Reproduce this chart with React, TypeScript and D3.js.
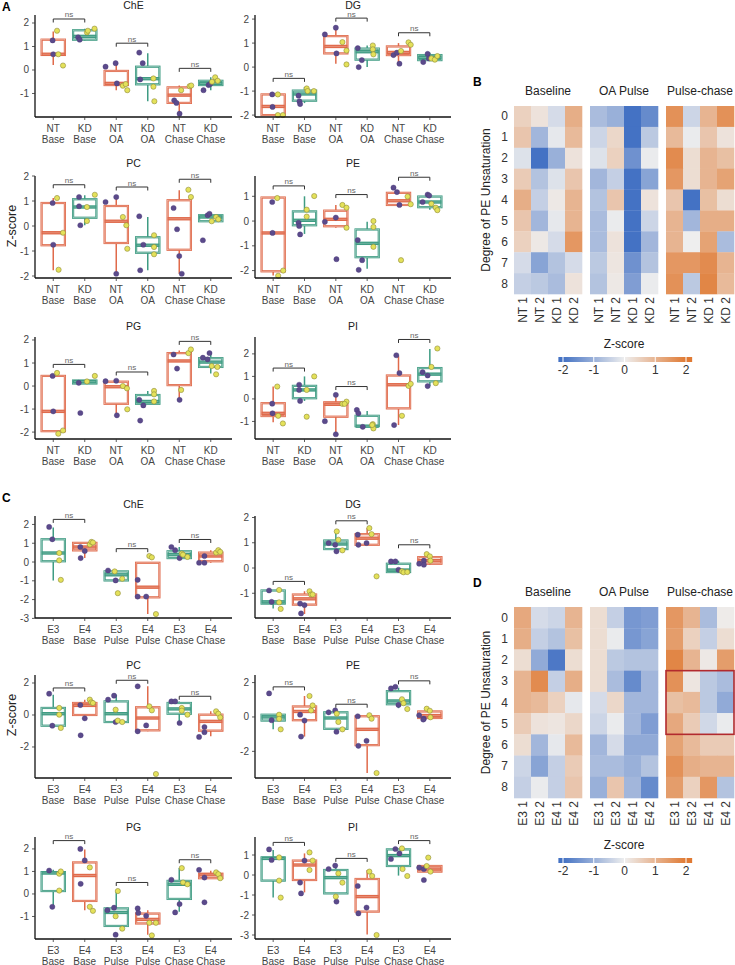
import React from "react";
import * as d3 from "d3";

const ORANGE = "#E06A4B";
const TEAL = "#3F9C83";
const PURPLE = "#5B4A8B";
const YELLOW = "#E4E15A";
const FONT = "'Liberation Sans', Arial, sans-serif";

type Grp = { box: number[]; p: number[][]; y: number[][] };

// ---------- Panel A categories ----------
const A_top = ["NT", "KD", "NT", "KD", "NT", "KD"];
const A_bot = ["Base", "Base", "OA", "OA", "Chase", "Chase"];
const A_cols = [ORANGE, TEAL, ORANGE, TEAL, ORANGE, TEAL];
// ---------- Panel C categories ----------
const C_top = ["E3", "E4", "E3", "E4", "E3", "E4"];
const C_bot = ["Base", "Base", "Pulse", "Pulse", "Chase", "Chase"];
const C_cols = [TEAL, ORANGE, TEAL, ORANGE, TEAL, ORANGE];

// box = [lower whisker, q1, median, q3, upper whisker]; points = [jitter, value]
const A_ChE: Grp[] = [
  { box: [0.21, 0.64, 0.67, 1.29, 1.64], p: [[-0.02, 1.26], [0, 0.67]], y: [[0.12, 1.67], [0.16, 0.67], [0.31, 0.19]] },
  { box: [1.25, 1.29, 1.43, 1.69, 1.76], p: [[-0.21, 1.39], [-0.16, 1.29]], y: [[0.07, 1.6], [0.1, 1.67], [0.31, 1.76]] },
  { box: [-0.86, -0.64, -0.57, -0.04, 0.29], p: [[-0.34, 0.14], [-0.02, 0.29], [0.02, -0.57]], y: [[0.21, -0.67], [0.3, -0.6], [0.35, -0.86]] },
  { box: [-1.33, -0.61, -0.37, 0.14, 0.71], p: [[-0.27, 0.74], [-0.16, 0.29], [-0.24, -0.4]], y: [[0.18, -0.36], [0.18, -0.71], [0.21, -1.33]] },
  { box: [-1.86, -1.4, -1.07, -0.74, -0.66], p: [[-0.16, -1.29], [-0.09, -1.4], [0.01, -1.86]], y: [[0.06, -0.86], [0.33, -0.69], [0.38, -0.66]] },
  { box: [-0.86, -0.64, -0.57, -0.46, -0.31], p: [[-0.23, -0.86], [-0.07, -0.64], [-0.02, -0.6]], y: [[0.14, -0.31], [0.22, -0.46], [0.04, -0.5]] },
];
const A_DG: Grp[] = [
  { box: [-2.0, -2.0, -1.64, -1.14, -1.14], p: [[-0.03, -1.14], [-0.02, -1.66]], y: [[0.15, -1.14], [0.15, -2.0], [0.31, -2.0]] },
  { box: [-1.5, -1.4, -1.12, -0.98, -0.83], p: [[-0.19, -1.19], [-0.16, -1.43], [-0.14, -1.54]], y: [[0.07, -0.89], [0.1, -1.0], [0.3, -1.0]] },
  { box: [0.14, 0.57, 0.86, 1.29, 1.64], p: [[-0.35, 1.36], [0, 1.64], [0.02, 0.57]], y: [[0.21, 1.04], [0.34, 0.69], [0.34, 0.11]] },
  { box: [0, 0.31, 0.64, 0.77, 0.9], p: [[-0.3, 0.79], [-0.17, 0.29], [-0.27, 0]], y: [[0.18, 0.9], [0.18, 0.74], [0.2, 0.53]] },
  { box: [0.14, 0.5, 0.61, 0.86, 1.0], p: [[-0.16, 0.5], [-0.05, 0.6], [0.03, 0.14]], y: [[0.08, 0.67], [0.32, 1.03], [0.39, 0.93]] },
  { box: [0.24, 0.29, 0.4, 0.5, 0.6], p: [[-0.21, 0.21], [-0.07, 0.55], [-0.03, 0.36]], y: [[0.05, 0.36], [0.16, 0.31], [0.24, 0.46]] },
];
const A_PC: Grp[] = [
  { box: [-1.77, -0.77, -0.27, 0.92, 1.12], p: [[-0.02, 0.92], [0, -0.75]], y: [[0.12, 1.12], [0.31, -0.27], [0.17, -1.75]] },
  { box: [0.03, 0.33, 0.76, 1.07, 1.23], p: [[-0.18, 1.16], [-0.18, 0.79], [-0.14, 0.03]], y: [[0.07, 0.76], [0.07, 0.2], [0.32, 1.25]] },
  { box: [-1.91, -0.68, 0.19, 0.8, 1.16], p: [[-0.34, 0.96], [0, 1.16], [0, -1.91]], y: [[0.21, 0.36], [0.32, 0.03], [0.35, -0.91]] },
  { box: [-1.77, -1.07, -0.77, -0.45, 0.36], p: [[-0.27, 0.39], [-0.14, -0.75], [-0.24, -1.77]], y: [[0.2, -0.37], [0.2, -0.84], [0.2, -1.13]] },
  { box: [-1.91, -0.95, 0.29, 1.03, 1.43], p: [[-0.18, 0.72], [-0.07, -0.13], [0, -1.2], [0.08, -1.91]], y: [[0.29, 1.45], [0.37, 1.16]] },
  { box: [0.19, 0.19, 0.36, 0.43, 0.49], p: [[-0.25, -0.57], [-0.1, 0.43], [-0.04, 0.49]], y: [[0.03, 0.19], [0.17, 0.36], [0.24, 0.27]] },
];
const A_PE: Grp[] = [
  { box: [-2.2, -2.03, -0.48, 0.95, 0.95], p: [[-0.03, 0.77], [-0.02, -0.48]], y: [[0.13, 0.93], [0.32, -2.0], [0.16, -2.21]] },
  { box: [-0.52, -0.17, 0.03, 0.39, 1.0], p: [[-0.19, -0.07], [-0.17, -0.2], [-0.14, -0.54]], y: [[0.07, 0.18], [0.07, 0.46], [0.31, 1.01]] },
  { box: [-0.27, -0.21, 0.07, 0.42, 0.65], p: [[-0.35, -0.03], [0, 0.14], [0.02, -1.54]], y: [[0.21, 0.65], [0.34, 0.54], [0.34, -0.27]] },
  { box: [-1.93, -1.46, -0.9, -0.34, -0.03], p: [[-0.3, -0.77], [-0.16, -1.58], [-0.27, -1.97]], y: [[0.2, 0], [0.2, -0.24], [0.2, -1.04]] },
  { box: [0.65, 0.65, 0.82, 1.14, 1.24], p: [[-0.16, 1.35], [-0.05, 1.17], [0.03, 0.65]], y: [[0.29, 0.99], [0.39, 0.68], [0.08, -1.58]] },
  { box: [0.46, 0.56, 0.77, 0.99, 1.1], p: [[-0.23, 0.77], [-0.07, 1.07], [-0.02, 1.03]], y: [[0.05, 0.7], [0.19, 0.54], [0.24, 0.44]] },
];
const A_PG: Grp[] = [
  { box: [-1.96, -1.96, -1.1, 0.44, 0.44], p: [[-0.02, 0.44], [0, -1.1]], y: [[0.12, 0.57], [0.31, -1.93], [0.16, -2.07]] },
  { box: [0.11, 0.11, 0.19, 0.24, 0.24], p: [[-0.19, 0.14], [-0.14, -1.17]], y: [[0.07, 0.2], [0.32, 0.44]] },
  { box: [-1.24, -0.77, -0.03, 0.19, 0.23], p: [[-0.34, 0.21], [0, 0.23], [0.02, -1.27]], y: [[0.21, 0], [0.34, -0.1], [0.35, -1.01]] },
  { box: [-0.77, -0.77, -0.67, -0.39, -0.21], p: [[-0.27, -0.6], [-0.14, -0.84], [-0.24, -1.5]], y: [[0.2, -0.21], [0.2, -0.36], [0.2, -0.67]] },
  { box: [-0.6, 0.04, 1.09, 1.43, 1.54], p: [[-0.18, 1.37], [-0.07, 0.76], [0.01, -0.6]], y: [[0.06, -0.17], [0.29, 1.43], [0.37, 1.59]] },
  { box: [0.54, 0.83, 1.04, 1.21, 1.4], p: [[-0.25, 1.23], [-0.1, 1.16], [-0.04, 1.43]], y: [[0.03, 0.87], [0.21, 0.83], [0.17, 0.51]] },
];
const A_PI: Grp[] = [
  { box: [-1.04, -0.76, -0.64, -0.19, 0.55], p: [[-0.03, -0.21], [-0.02, -0.64]], y: [[0.13, 0.55], [0.16, -0.75], [0.31, -1.09]] },
  { box: [-0.09, 0.03, 0.4, 0.58, 1.0], p: [[-0.17, 0.63], [-0.17, 0.4], [-0.14, -0.09]], y: [[0.07, 0.4], [0.31, 1.0], [0.07, -0.79]] },
  { box: [-1.54, -0.79, -0.24, -0.15, 0.18], p: [[-0.35, -0.99], [0, 0.18], [0, -1.57]], y: [[0.21, -0.22], [0.34, -0.12], [0.28, -0.22]] },
  { box: [-1.24, -1.21, -1.21, -0.75, -0.54], p: [[-0.33, -0.49], [-0.28, -0.64], [-0.14, -1.24]], y: [[0.18, -1.12], [0.2, -1.31], [0.16, -1.16]] },
  { box: [-1.16, -0.42, 0.63, 1.04, 1.9], p: [[-0.07, 1.94], [0.03, 1.15], [-0.14, -1.16]], y: [[0.11, -0.75], [0.32, 0.58], [0.39, 0.67]] },
  { box: [0.57, 0.78, 1.1, 1.37, 2.22], p: [[-0.23, 1.19], [-0.07, 1.04], [-0.07, 0.57]], y: [[0.05, 1.42], [0.19, 0.7], [0.24, 2.24]] },
];

const C_ChE: Grp[] = [
  { box: [-0.98, 0.04, 0.48, 1.21, 1.84], p: [[-0.13, 1.87], [-0.03, 1.21]], y: [[0.19, 0.48], [0.19, 0.09], [0.24, -0.95]] },
  { box: [0.21, 0.62, 0.8, 1.02, 1.07], p: [[-0.14, 0.8], [0, 0.59], [-0.13, 0.21]], y: [[0.16, 0.93], [0.21, 1.07], [0.26, 1.04]] },
  { box: [-0.98, -0.98, -0.68, -0.5, -0.45], p: [[-0.26, -0.45], [-0.02, -0.98]], y: [[-0.05, -0.5], [0.19, -0.89], [0.05, -1.66]] },
  { box: [-2.77, -1.88, -1.34, -0.04, -0.04], p: [[-0.32, -0.95], [-0.32, -1.84], [-0.05, -1.84]], y: [[0.05, 0.32], [0.13, 0.25], [0.26, -2.77]] },
  { box: [0.21, 0.21, 0.39, 0.57, 0.8], p: [[-0.25, 0.8], [-0.13, 0.63], [0.01, 0.21]], y: [[0.08, 0.45], [0.12, 0.39], [0.26, 0.27]] },
  { box: [-0.04, 0.04, 0.32, 0.5, 0.63], p: [[-0.37, -0.04], [-0.2, 0.32], [-0.2, -0.04]], y: [[0.17, 0.5], [0.24, 0.63], [0.3, 0.54]] },
];
const C_DG: Grp[] = [
  { box: [-1.6, -1.41, -1.34, -0.89, -0.87], p: [[-0.13, -0.89], [-0.05, -1.34]], y: [[0.19, -0.87], [0.19, -1.36], [0.24, -1.62]] },
  { box: [-1.82, -1.45, -1.22, -1.05, -0.92], p: [[-0.14, -1.41], [0, -1.47], [-0.11, -1.8]], y: [[0.16, -0.92], [0.21, -1.05], [0.26, -1.05]] },
  { box: [0.66, 0.75, 0.95, 1.09, 1.45], p: [[-0.23, 0.99], [-0.02, 0.92], [0.02, 0.66]], y: [[0.03, 1.45], [0.08, 1.12], [0.21, 0.7]] },
  { box: [0.92, 0.92, 1.18, 1.34, 1.58], p: [[-0.3, 1.32], [-0.28, 0.92], [-0.02, 0.99]], y: [[0.07, 1.58], [0.14, 1.34], [0.3, -0.33]] },
  { box: [-0.16, -0.16, -0.08, 0.17, 0.29], p: [[-0.24, 0.26], [-0.1, 0.26], [0, -0.07]], y: [[0.11, -0.13], [0.16, -0.17], [0.28, -0.16]] },
  { box: [0.13, 0.17, 0.29, 0.43, 0.55], p: [[-0.34, 0.17], [-0.19, 0.29], [-0.19, 0.13]], y: [[-0.1, 0.55], [0, 0.46], [0.02, 0.29]] },
];
const C_PC: Grp[] = [
  { box: [-0.67, -0.67, 0.08, 0.44, 1.27], p: [[-0.13, 1.33], [-0.03, -0.67]], y: [[0.19, 0.44], [0.19, 0.02], [0.24, -0.81]] },
  { box: [0, 0, 0.6, 0.75, 0.96], p: [[-0.14, 0.62], [0, -0.21], [-0.13, -1.27]], y: [[0.16, 0.96], [0.21, 0.79], [0.26, 0.75]] },
  { box: [-0.44, -0.44, 0.08, 0.85, 1.27], p: [[-0.26, 0.96], [-0.07, 1.21], [-0.02, -0.44]], y: [[-0.02, 0.33], [0.05, -0.35], [0.19, -0.44]] },
  { box: [-1.02, -0.96, -0.19, 0.48, 1.79], p: [[-0.32, 1.79], [-0.32, -1.02], [-0.05, -0.65]], y: [[0.05, 0.54], [0.13, 0.29], [0.26, -3.69]] },
  { box: [-0.5, 0.08, 0.38, 0.75, 0.85], p: [[-0.25, 0.85], [-0.13, 0.85], [0.01, -0.5]], y: [[0.08, 0.44], [0.08, 0.27], [0.26, 0.02]] },
  { box: [-1.33, -0.98, -0.4, 0.02, 0.23], p: [[-0.37, -1.37], [-0.2, -0.75], [-0.2, -1.08]], y: [[0.17, 0.23], [0.24, 0.08], [0.3, -0.15]] },
];
const C_PE: Grp[] = [
  { box: [-0.72, -0.21, 0, 0.13, 0.13], p: [[-0.13, 1.37], [-0.05, -0.19]], y: [[0.19, 0.13], [0.19, -0.11], [0.24, -0.72]] },
  { box: [-1.14, -0.19, 0.32, 0.61, 1.22], p: [[-0.14, 0.13], [0, -0.21], [-0.11, -1.14]], y: [[0.16, 1.22], [0.21, 0.38], [0.26, 0.67]] },
  { box: [-0.88, -0.69, -0.06, 0.27, 0.38], p: [[-0.23, 0.27], [-0.02, 0.38], [0.02, -0.86]], y: [[0.03, 0.19], [0.08, -0.29], [0.21, -0.72]] },
  { box: [-3.26, -1.64, -0.72, 0.04, 0.04], p: [[-0.3, 0.04], [-0.28, -1.68], [-0.02, -1.39]], y: [[0.07, 0.1], [0.14, -0.1], [0.3, -3.26]] },
  { box: [0.51, 0.74, 0.93, 1.5, 1.7], p: [[-0.24, 1.66], [-0.1, 1.75], [0, 0.7]], y: [[0.11, 1.03], [0.16, 0.8], [0.28, 0.46]] },
  { box: [-0.15, -0.06, 0.08, 0.32, 0.46], p: [[-0.34, 0.1], [-0.19, -0.1], [-0.21, -0.15]], y: [[-0.1, 0.48], [0, 0.36], [0.02, -0.02]] },
];
const C_PG: Grp[] = [
  { box: [-0.57, 0.13, 0.93, 0.97, 1.07], p: [[-0.13, 1.04], [-0.03, -0.57]], y: [[0.19, 0.9], [0.24, 1.0], [0.19, 0.15]] },
  { box: [-0.72, -0.31, 0.82, 1.4, 1.97], p: [[-0.14, 2.0], [0, 1.49], [-0.13, 0.45]], y: [[0.16, 1.18], [0.16, -0.57], [0.26, -0.75]] },
  { box: [-1.42, -1.42, -0.82, -0.64, 0.1], p: [[-0.28, -0.72], [-0.07, -0.61], [-0.02, -1.81]], y: [[0.05, 0.13], [-0.02, -0.99], [0.19, -1.54]] },
  { box: [-1.81, -1.31, -1.13, -0.87, -0.72], p: [[-0.32, -0.64], [-0.3, -0.84], [-0.05, -0.97]], y: [[0.05, -1.28], [0.26, -1.28], [0.13, -1.84]] },
  { box: [-0.79, -0.22, 0.43, 0.58, 1.15], p: [[-0.25, 0.63], [0.01, -0.45], [-0.13, -0.82]], y: [[0.08, 1.15], [0.12, 0.51], [0.26, 0.43]] },
  { box: [0.7, 0.7, 0.85, 0.9, 1.03], p: [[-0.37, 1.07], [-0.2, 0.73], [-0.2, -0.37]], y: [[0.17, 0.96], [0.24, 0.88], [0.3, 0.7]] },
];
const C_PI: Grp[] = [
  { box: [-1.12, -0.28, 0.83, 0.88, 1.25], p: [[-0.13, 1.28], [-0.05, 0.75]], y: [[0.19, 0.88], [0.19, -0.28], [0.24, -1.13]] },
  { box: [-0.87, -0.25, 0.5, 0.72, 1.08], p: [[0, 0.72], [-0.14, -0.38], [-0.11, -0.92]], y: [[0.16, 1.13], [0.26, 0.72], [0.16, 0.25]] },
  { box: [-1.33, -0.92, -0.13, 0.25, 0.5], p: [[-0.23, 0.3], [-0.02, 0.47], [0.02, -1.33]], y: [[0.08, 0.08], [0.21, -0.38], [0, -1.08]] },
  { box: [-2.97, -1.83, -1.08, -0.2, 0.25], p: [[-0.3, -0.55], [-0.28, -1.92], [-0.02, -1.63]], y: [[0.07, 0.17], [0.16, -0.05], [0.3, -3.0]] },
  { box: [-0.03, 0.45, 0.97, 1.28, 1.3], p: [[-0.24, 0.8], [-0.1, 1.3], [0.03, 1.08]], y: [[0.11, 1.33], [0.13, 0.3], [0.28, -0.05]] },
  { box: [0.17, 0.17, 0.3, 0.45, 0.45], p: [[-0.34, 0.37], [-0.19, 0.3], [-0.19, -0.25]], y: [[-0.05, 0.87], [-0.1, 0.45], [0.02, 0.17]] },
];

// bracket heights for pairs (0-1, 2-3, 4-5)
const A_ChE_ns = [2.17, 1.14, 0.07];
const A_DG_ns = [-0.47, 2.04, 1.43];
const A_PC_ns = [1.65, 1.56, 1.87];
const A_PE_ns = [1.42, 1.07, 1.77];
const A_PG_ns = [0.94, 0.61, 1.94];
const A_PI_ns = [1.37, 0.55, 2.64];
const C_ChE_ns = [2.27, 0.71, 1.2];
const C_DG_ns = [-0.53, 1.87, 0.92];
const C_PC_ns = [1.69, 2.17, 1.17];
const C_PE_ns = [1.75, 0.74, 2.1];
const C_PG_ns = [2.37, 0.51, 1.52];
const C_PI_ns = [1.63, 0.83, 1.72];

// ---------- Heatmaps ----------
const rowLabels = ["0", "1", "2", "3", "4", "5", "6", "7", "8"];
const blockTitles = ["Baseline", "OA Pulse", "Pulse-chase"];
const B_colLabels = ["NT 1", "NT 2", "KD 1", "KD 2"];
const D_colLabels = ["E3 1", "E3 2", "E4 1", "E4 2"];

const B_baseline = [
  [0.5, 0.2, -0.3, 1.1], [0.7, -0.9, -0.1, 0.9], [-0.2, -2.0, -1.0, 0.2],
  [0.6, -0.7, -0.2, 0.7], [1.1, -0.5, 0.1, 1.0], [0.7, -0.9, -0.1, 1.0],
  [0.5, 0.1, -0.3, 1.5], [-0.3, -1.2, -0.7, -0.3], [-0.5, -0.6, -0.8, 0.2],
];
const B_oapulse = [
  [-0.8, -1.0, -2.0, -1.6], [-0.4, 0.4, -2.0, -0.6], [-0.2, 0.5, -1.5, -0.05],
  [-0.9, -0.5, -2.0, -1.2], [-0.7, 0.7, -2.0, 0.2], [-0.8, -0.05, -2.0, -0.4],
  [-0.8, 0.2, -2.0, -0.9], [-0.6, 0.15, -1.5, -0.7], [-0.7, 0.1, -1.3, -0.05],
];
const B_pulsechase = [
  [1.6, -0.4, 1.0, 1.6], [0.9, -0.05, 0.7, 0.2], [1.7, 0.3, 1.0, 0.8],
  [1.5, 0.3, 1.0, 1.3], [0.7, -2.0, 0.8, 0.3], [1.0, -0.9, 1.1, 1.1],
  [1.0, 0.0, 1.3, -0.8], [1.5, 1.5, 1.7, 1.0], [1.6, -0.6, 1.8, 0.9],
];
const D_baseline = [
  [1.2, -0.3, -0.4, 1.0], [1.1, -0.5, -0.7, 0.8], [0.3, -1.1, -1.9, 0.3],
  [1.0, 1.7, -0.5, 1.1], [1.0, 0.9, 0.5, -0.1], [0.6, 0.2, 0.15, 0.4],
  [0.3, -0.9, -0.1, 0.9], [-0.4, -1.2, -0.5, 0.6], [-0.5, -0.05, -0.5, 0.7],
];
const D_oapulse = [
  [0.3, -0.5, -1.4, -1.3], [0.3, -0.05, -1.4, -1.2], [0.3, -0.6, -0.7, -0.7],
  [0.3, -0.8, -1.6, -0.9], [-0.3, 0.4, -0.9, -0.9], [-0.4, -0.05, -0.9, -1.3],
  [-0.9, -0.3, -1.1, -1.1], [-0.8, -0.8, -1.0, -0.7], [-1.0, 0.7, -0.9, -1.6],
];
const D_pulsechase = [
  [1.5, 1.0, -0.8, 0.05], [1.4, 0.5, -0.5, 0.3], [1.8, 1.0, 0.1, 1.4],
  [1.6, 0.15, -0.6, -0.8], [0.8, 0.9, -0.6, -1.1], [1.2, 0.6, -0.35, -0.05],
  [1.3, 0.9, 0.6, 0.6], [1.6, 1.1, 1.0, 1.0], [1.4, 0.5, 1.5, -0.7],
];
const cbTicks = [-2, -1, 0, 1, 2];

const heatColor = d3
  .scaleLinear<string>()
  .domain([-2, 0, 2])
  .range(["#4472C4", "#EEEEEE", "#E07A33"])
  .clamp(true);

type PanelProps = {
  title: string;
  groups: Grp[];
  domain: [number, number];
  ticks: number[];
  ns: number[];
  x0: number;
  x1: number;
  top: number;
  bottom: number;
  titleY: number;
  catTop: string[];
  catBot: string[];
  colors: string[];
};

function BoxPanel(props: PanelProps) {
  const { title, groups, domain, ticks, ns, x0, x1, top, bottom, titleY, catTop, catBot, colors } = props;
  const x = d3.scaleBand<number>().domain(d3.range(6)).range([x0 + 2.5, x1 - 5.5]);
  const step = x.step();
  const cx = (i: number) => (x(i) as number) + x.bandwidth() / 2;
  const y = d3.scaleLinear().domain(domain).range([bottom, top]);
  const bw = step * 0.74;
  return (
    <g>
      <text x={(x0 + x1) / 2} y={titleY} textAnchor="middle" fontSize={10.5} fill="#222">
        {title}
      </text>
      {groups.map((g, i) => {
        const c = cx(i);
        const [lo, q1, md, q3, hi] = g.box;
        const col = colors[i];
        return (
          <g key={i}>
            <line x1={c} x2={c} y1={y(lo)} y2={y(q1)} stroke={col} strokeWidth={1.5} />
            <line x1={c} x2={c} y1={y(q3)} y2={y(hi)} stroke={col} strokeWidth={1.5} />
            <rect x={c - bw / 2} y={y(q3)} width={bw} height={Math.max(0.5, y(q1) - y(q3))} fill="#fff" fillOpacity={0.85} stroke={col} strokeWidth={2.2} />
            <rect x={c - bw / 2} y={y(q3)} width={bw} height={Math.max(0.5, y(q1) - y(q3))} fill="none" stroke="#fff" strokeOpacity={0.55} strokeWidth={0.6} />
            <line x1={c - bw / 2} x2={c + bw / 2} y1={y(md)} y2={y(md)} stroke={col} strokeWidth={3.4} />
            <line x1={c - bw / 2 + 1} x2={c + bw / 2 - 1} y1={y(md)} y2={y(md)} stroke="#fff" strokeOpacity={0.35} strokeWidth={0.7} />
          </g>
        );
      })}
      {groups.map((g, i) => (
        <g key={"pt" + i}>
          {g.p.map((p, j) => (
            <circle key={"p" + j} cx={cx(i) + p[0] * step} cy={y(p[1])} r={2.6} fill={PURPLE} stroke="#4a3a78" strokeWidth={0.4} />
          ))}
          {g.y.map((p, j) => (
            <circle key={"y" + j} cx={cx(i) + p[0] * step} cy={y(p[1])} r={2.6} fill={YELLOW} stroke="#8f8c3a" strokeWidth={0.6} />
          ))}
        </g>
      ))}
      {ns.map((v, k) => {
        const a = cx(k * 2);
        const b = cx(k * 2 + 1);
        const yy = y(v);
        return (
          <g key={"ns" + k}>
            <path d={`M${a},${yy + 3.5}V${yy}H${b}V${yy + 3.5}`} fill="none" stroke="#333" strokeWidth={1} />
            <text x={(a + b) / 2} y={yy - 1.5} textAnchor="middle" fontSize={8} fill="#666">
              ns
            </text>
          </g>
        );
      })}
      <line x1={x0} x2={x0} y1={top} y2={bottom} stroke="#111" strokeWidth={1.3} />
      <line x1={x0} x2={x1} y1={bottom} y2={bottom} stroke="#111" strokeWidth={1.3} />
      {ticks.map((t) => (
        <g key={"t" + t}>
          <line x1={x0 - 3} x2={x0} y1={y(t)} y2={y(t)} stroke="#333" strokeWidth={0.8} />
          <text x={x0 - 6} y={y(t) + 3.5} textAnchor="end" fontSize={10} fill="#444">
            {t}
          </text>
        </g>
      ))}
      {catTop.map((c, i) => (
        <g key={"c" + i}>
          <line x1={cx(i)} x2={cx(i)} y1={bottom} y2={bottom + 3} stroke="#333" strokeWidth={0.8} />
          <text x={cx(i)} y={bottom + 14.5} textAnchor="middle" fontSize={10} fill="#444">
            {c}
          </text>
          <text x={cx(i)} y={bottom + 25.5} textAnchor="middle" fontSize={10} fill="#444">
            {catBot[i]}
          </text>
        </g>
      ))}
    </g>
  );
}

type HeatProps = {
  top: number;
  bottom: number;
  blocks: number[][][];
  colLabels: string[];
  cbY: number;
  highlight?: boolean;
};

const blockX = [514, 590, 666];

function Heatmap({ top, bottom, blocks, colLabels, cbY, highlight }: HeatProps) {
  const cellW = 17;
  const rowY = d3.scaleBand<number>().domain(d3.range(9)).range([top, bottom]);
  const cellH = rowY.bandwidth();
  const cb = d3.scaleLinear().domain([-2, 2]).range([563, 686]);
  const gradStops = d3.range(-2.15, 2.21, 0.05);
  const gid = "grad" + top;
  const yMid = (top + bottom) / 2;
  return (
    <g>
      <defs>
        <linearGradient id={gid} x1="0" x2="1" y1="0" y2="0">
          {gradStops.map((v, i) => (
            <stop key={i} offset={(v + 2.15) / 4.35} stopColor={heatColor(v)} />
          ))}
        </linearGradient>
      </defs>
      {blocks.map((blk, b) => (
        <g key={b}>
          <text x={blockX[b] + 34} y={top - 11} textAnchor="middle" fontSize={12} fill="#222">
            {blockTitles[b]}
          </text>
          {blk.map((row, r) =>
            row.map((v, c) => (
              <rect key={r + "-" + c} x={blockX[b] + c * cellW} y={rowY(r)} width={cellW + 0.3} height={cellH + 0.3} fill={heatColor(v)} />
            ))
          )}
          {colLabels.map((l, c) => (
            <text key={l} transform={`translate(${blockX[b] + c * cellW + cellW / 2 + 4},${bottom + 3}) rotate(-90)`} textAnchor="end" fontSize={12} fill="#333">
              {l}
            </text>
          ))}
        </g>
      ))}
      {rowLabels.map((l, r) => (
        <text key={l} x={508} y={(rowY(r) as number) + cellH / 2 + 4} textAnchor="end" fontSize={12} fill="#333">
          {l}
        </text>
      ))}
      <text transform={`translate(490,${yMid}) rotate(-90)`} textAnchor="middle" fontSize={12} fill="#222">
        Degree of PE Unsaturation
      </text>
      {highlight && (
        <rect x={blockX[2]} y={rowY(3)} width={cellW * 4} height={cellH * 3} fill="none" stroke="#B22A2E" strokeWidth={1.6} />
      )}
      <text x={624} y={cbY} textAnchor="middle" fontSize={12} fill="#222">
        Z-score
      </text>
      <rect x={cb(-2.15)} y={cbY + 9} width={cb(2.2) - cb(-2.15)} height={5} fill={`url(#${gid})`} />
      {cbTicks.map((t) => (
        <g key={t}>
          <line x1={cb(t)} x2={cb(t)} y1={cbY + 9} y2={cbY + 14} stroke="#fff" strokeWidth={1} />
          <text x={cb(t)} y={cbY + 26} textAnchor="middle" fontSize={12} fill="#333">
            {t}
          </text>
        </g>
      ))}
    </g>
  );
}

export default function App() {
  const L = { x0: 35, x1: 232 };
  const R = { x0: 255, x1: 451 };
  const rowsA = [
    { top: 15, bottom: 117, titleY: 9 },
    { top: 176, bottom: 278, titleY: 167 },
    { top: 337, bottom: 439, titleY: 330 },
  ];
  const rowsC = [
    { top: 516, bottom: 618, titleY: 508 },
    { top: 675, bottom: 778, titleY: 669 },
    { top: 837, bottom: 939, titleY: 831 },
  ];
  const A = { catTop: A_top, catBot: A_bot, colors: A_cols };
  const C = { catTop: C_top, catBot: C_bot, colors: C_cols };
  return (
    <svg width={735} height={965} style={{ position: "absolute", left: 0, top: 0, background: "#fff" }} fontFamily={FONT}>
      <rect width={735} height={965} fill="#fff" />
      <text x={2} y={11} fontSize={12} fontWeight="bold">A</text>
      <text x={2} y={502} fontSize={12} fontWeight="bold">C</text>
      <text x={473} y={86} fontSize={12} fontWeight="bold">B</text>
      <text x={473} y={587} fontSize={12} fontWeight="bold">D</text>

      <BoxPanel title="ChE" groups={A_ChE} domain={[-2.0, 2.34]} ticks={[-1, 0, 1, 2]} ns={A_ChE_ns} {...L} {...rowsA[0]} {...A} />
      <BoxPanel title="DG" groups={A_DG} domain={[-2.08, 2.17]} ticks={[-2, -1, 0, 1, 2]} ns={A_DG_ns} {...R} {...rowsA[0]} {...A} />
      <BoxPanel title="PC" groups={A_PC} domain={[-2.08, 2.0]} ticks={[-2, -1, 0, 1, 2]} ns={A_PC_ns} {...L} {...rowsA[1]} {...A} />
      <BoxPanel title="PE" groups={A_PE} domain={[-2.3, 1.82]} ticks={[-2, -1, 0, 1]} ns={A_PE_ns} {...R} {...rowsA[1]} {...A} />
      <BoxPanel title="PG" groups={A_PG} domain={[-2.3, 2.13]} ticks={[-2, -1, 0, 1, 2]} ns={A_PG_ns} {...L} {...rowsA[2]} {...A} />
      <BoxPanel title="PI" groups={A_PI} domain={[-1.78, 2.75]} ticks={[-1, 0, 1, 2]} ns={A_PI_ns} {...R} {...rowsA[2]} {...A} />

      <BoxPanel title="ChE" groups={C_ChE} domain={[-2.98, 2.45]} ticks={[-3, -2, -1, 0, 1, 2]} ns={C_ChE_ns} {...L} {...rowsC[0]} {...C} />
      <BoxPanel title="DG" groups={C_DG} domain={[-1.98, 2.06]} ticks={[-1, 0, 1, 2]} ns={C_DG_ns} {...R} {...rowsC[0]} {...C} />
      <BoxPanel title="PC" groups={C_PC} domain={[-3.94, 2.5]} ticks={[-2, 0, 2]} ns={C_PC_ns} {...L} {...rowsC[1]} {...C} />
      <BoxPanel title="PE" groups={C_PE} domain={[-3.55, 2.44]} ticks={[-2, 0, 2]} ns={C_PE_ns} {...R} {...rowsC[1]} {...C} />
      <BoxPanel title="PG" groups={C_PG} domain={[-2.0, 2.53]} ticks={[-1, 0, 1, 2]} ns={C_PG_ns} {...L} {...rowsC[2]} {...C} />
      <BoxPanel title="PI" groups={C_PI} domain={[-3.2, 1.9]} ticks={[-3, -2, -1, 0, 1]} ns={C_PI_ns} {...R} {...rowsC[2]} {...C} />

      <text transform="translate(16,226) rotate(-90)" textAnchor="middle" fontSize={12.5} fill="#222">Z-score</text>
      <text transform="translate(16,715) rotate(-90)" textAnchor="middle" fontSize={12.5} fill="#222">Z-score</text>

      <Heatmap top={106} bottom={294} blocks={[B_baseline, B_oapulse, B_pulsechase]} colLabels={B_colLabels} cbY={348} />
      <Heatmap top={607} bottom={798} blocks={[D_baseline, D_oapulse, D_pulsechase]} colLabels={D_colLabels} cbY={849} highlight />
    </svg>
  );
}
